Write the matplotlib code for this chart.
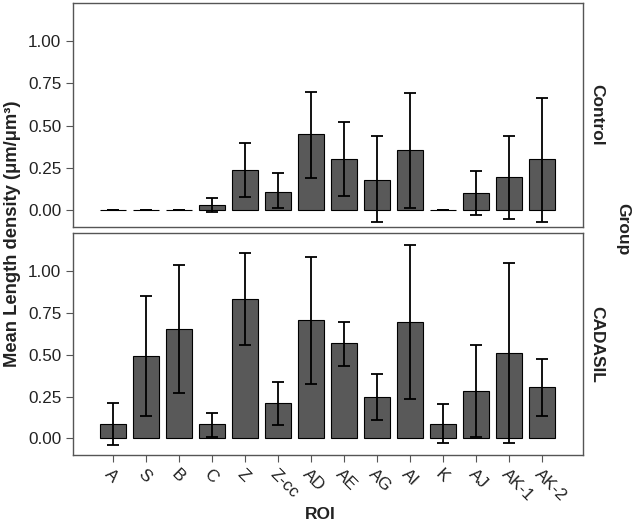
import matplotlib
matplotlib.use("Agg")
import matplotlib.pyplot as plt
import numpy as np

plt.rcParams['font.family'] = ['Liberation Sans', 'DejaVu Sans']

rois = ["A", "S", "B", "C", "Z", "Z-cc", "AD", "AE", "AG", "AI", "K", "AJ", "AK-1", "AK-2"]
groups = ["Control", "CADASIL"]

control_mean = [0.0, 0.0, 0.0, 0.03, 0.24, 0.11, 0.45, 0.30, 0.18, 0.355, 0.0, 0.10, 0.195, 0.30]
control_low = [0.0, 0.0, 0.0, -0.01, 0.08, 0.01, 0.19, 0.085, -0.07, 0.015, 0.0, -0.03, -0.05, -0.07]
control_high = [0.0, 0.0, 0.0, 0.07, 0.40, 0.22, 0.70, 0.52, 0.44, 0.695, 0.0, 0.23, 0.44, 0.665]

cadasil_mean = [0.089, 0.493, 0.655, 0.085, 0.833, 0.211, 0.706, 0.568, 0.247, 0.694, 0.087, 0.282, 0.511, 0.306]
cadasil_low = [-0.037, 0.134, 0.274, 0.01, 0.558, 0.079, 0.325, 0.434, 0.107, 0.233, -0.03, 0.01, -0.03, 0.136]
cadasil_high = [0.213, 0.852, 1.036, 0.154, 1.105, 0.339, 1.085, 0.698, 0.385, 1.154, 0.203, 0.56, 1.047, 0.475]

yticks = [0.0, 0.25, 0.5, 0.75, 1.0]

fig = plt.figure(figsize=(6.33, 5.28), dpi=100)
ax1 = fig.add_axes([0.1153, 0.570, 0.8057, 0.424])
ax2 = fig.add_axes([0.1153, 0.138, 0.8057, 0.420])

x = np.arange(len(rois))
data = [(control_mean, control_low, control_high), (cadasil_mean, cadasil_low, cadasil_high)]
for ax, (m, lo, hi), g in zip([ax1, ax2], data, groups):
    m = np.array(m); lo = np.array(lo); hi = np.array(hi)
    ax.bar(x, m, width=0.78, color="#595959", edgecolor="black", linewidth=0.8, zorder=2)
    ax.errorbar(x, m, yerr=[m - lo, hi - m], fmt="none", ecolor="black",
                elinewidth=1.3, capsize=4, capthick=1.3, zorder=3)
    ax.set_xlim(-1.2, 14.24)
    ax.set_ylim(-0.1, 1.225)
    ax.set_yticks(yticks)
    ax.set_yticklabels([f"{v:.2f}" for v in yticks], fontsize=12.3, color="#222222")
    ax.tick_params(axis="y", direction="out", length=5, width=0.8, colors="#555555", labelcolor="#222222")
    ax.tick_params(right=False, top=False)
    for s in ax.spines.values():
        s.set_color("#555555")
        s.set_linewidth(1.0)
    ax.text(1.012, 0.5, g, transform=ax.transAxes, rotation=-90, fontsize=12.5,
            fontweight="bold", ha="left", va="center", color="#222222")

ax1.set_xticks([])
ax2.set_xticks(x)
ax2.set_xticklabels(rois, rotation=-45, ha="left", va="top", rotation_mode="anchor",
                    fontsize=12.3, color="#222222")
ax2.tick_params(axis="x", direction="out", length=5, width=0.8, colors="#555555", labelcolor="#222222")

fig.text(0.020, 0.557, "Mean Length density (μm/μm³)", rotation=90, fontsize=13.2,
         fontweight="bold", ha="center", va="center", color="#222222")
fig.text(0.984, 0.566, "Group", rotation=-90, fontsize=12.5, fontweight="bold",
         ha="center", va="center", color="#222222")
fig.text(0.506, 0.025, "ROI", fontsize=12.5, fontweight="bold", ha="center", va="center",
         color="#222222")

fig.savefig("out.png", dpi=100)
